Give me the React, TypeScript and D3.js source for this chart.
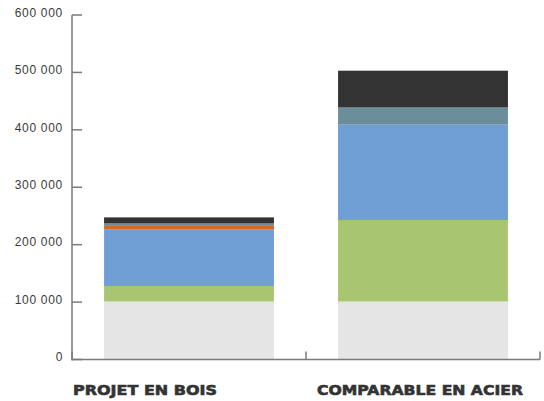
import React from "react";
import * as d3 from "d3";

const categories = ["PROJET EN BOIS", "COMPARABLE EN ACIER"];
const seriesKeys = ["base", "vert", "bleu", "orange", "gris", "noir"];
const seriesColors = ["#e5e5e5", "#a8c572", "#6f9fd4", "#d2692b", "#6b8c99", "#333333"];
const baseValues = [101000, 101000];
const vertValues = [27000, 142000];
const bleuValues = [99000, 166000];
const orangeValues = [7000, 0];
const grisValues = [3000, 30000];
const noirValues = [10500, 64000];
const yTicks = [0, 100000, 200000, 300000, 400000, 500000, 600000];

const W = 544;
const H = 401;
const margin = { left: 72, right: 4, top: 15, bottom: 41.5 };

export default function App() {
  const rows = categories.map((c, i) => ({
    cat: c,
    base: baseValues[i],
    vert: vertValues[i],
    bleu: bleuValues[i],
    orange: orangeValues[i],
    gris: grisValues[i],
    noir: noirValues[i],
  }));
  const stack = d3.stack<any>().keys(seriesKeys)(rows);

  const x = d3
    .scaleBand<string>()
    .domain(categories)
    .range([margin.left, W - margin.right])
    .paddingInner(0.274)
    .paddingOuter(0.137);
  const y = d3
    .scaleLinear()
    .domain([0, 600000])
    .range([H - margin.bottom, margin.top]);

  const fmt = (v: number) => d3.format(",")(v).replace(/,/g, " ");
  const x0 = margin.left;
  const x1 = W - margin.right;
  const y0 = y(0);
  const boundaries = [x0, (x0 + x1) / 2, x1];
  const labelX = [x0 + 1, (x0 + x1) / 2 + 11];
  const labelW = [144, 206];

  return (
    <svg width={W} height={H} style={{ position: "absolute", left: 0, top: 0, background: "#fff" }}>
      {stack.map((s, si) => (
        <g key={s.key} fill={seriesColors[si]}>
          {s.map((d, i) => (
            <rect
              key={i}
              x={x(categories[i])}
              width={x.bandwidth()}
              y={y(d[1])}
              height={Math.max(0, y(d[0]) - y(d[1]))}
            />
          ))}
        </g>
      ))}
      <g stroke="#7a7a7a" strokeWidth={1.5} fill="none">
        <line x1={x0} x2={x0} y1={y(600000)} y2={y0 + 1} />
        <line x1={x0} x2={x1} y1={y0} y2={y0} />
        {yTicks.map((t) => (
          <line key={t} x1={x0} x2={x0 + 10} y1={y(t)} y2={y(t)} />
        ))}
        {boundaries.map((b, i) => (
          <line key={i} x1={b} x2={b} y1={y0 - 8} y2={y0} />
        ))}
      </g>
      <g fontFamily="'Liberation Sans', Arial, sans-serif" fontSize={12} fill="#3a3a3a" letterSpacing={0.7}>
        {yTicks.map((t) => (
          <text key={t} x={63} y={y(t) - 1.5} textAnchor="end" dominantBaseline="middle">
            {fmt(t)}
          </text>
        ))}
      </g>
      <g
        fontFamily="'DejaVu Sans', sans-serif"
        fontWeight="bold"
        fontSize={13.5}
        fill="#333"
        stroke="#333"
        strokeWidth={0.6}
      >
        {categories.map((c, i) => (
          <text key={c} x={labelX[i]} y={395} textLength={labelW[i]} lengthAdjust="spacingAndGlyphs">
            {c}
          </text>
        ))}
      </g>
    </svg>
  );
}
